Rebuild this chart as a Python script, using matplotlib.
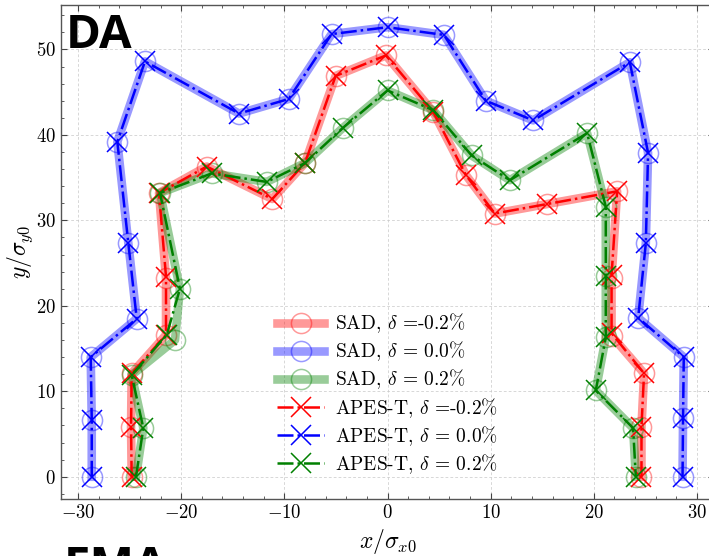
import matplotlib
matplotlib.use("Agg")
import matplotlib.pyplot as plt
from matplotlib.ticker import MultipleLocator

plt.rcParams.update({
    "font.family": "serif",
    "font.serif": ["cmr10"],
    "mathtext.fontset": "cm",
    "axes.formatter.use_mathtext": True,
    "axes.unicode_minus": True,
})

# Beam footprint boundaries (normalised coordinates)
deltas = ["-0.2", "0.0", "0.2"]
colors = ["red", "blue", "green"]

apes_x_m02 = [-24.8, -24.86, -24.8, -21.47, -21.47, -22.15, -17.53, -11.17, -8.0, -5.03, -0.15,
              4.43, 7.6, 10.4, 15.42, 22.26, 21.72, 21.72, 24.87, 24.62, 24.62]
apes_y_m02 = [0.0, 5.86, 12.1, 16.6, 23.4, 33.2, 36.3, 32.5, 36.7, 46.9, 49.3,
              42.7, 35.3, 30.8, 31.9, 33.4, 23.6, 16.8, 12.1, 5.86, 0.0]

apes_x_0 = [-28.67, -28.67, -28.77, -24.31, -25.13, -26.19, -23.51, -14.4, -9.58, -5.42, 0.0,
            5.47, 9.53, 14.12, 23.49, 25.26, 25.04, 24.3, 28.72, 28.65, 28.6]
apes_y_0 = [0.0, 6.7, 14.0, 18.5, 27.4, 39.2, 48.6, 42.5, 44.2, 51.8, 52.6,
            51.7, 44.0, 41.7, 48.5, 37.9, 27.3, 18.6, 14.0, 6.9, 0.0]

apes_x_p02 = [-24.38, -23.67, -24.8, -21.4, -20.12, -22.05, -17.04, -11.71, -8.0, -4.35, 0.0,
              4.43, 8.15, 11.86, 19.35, 21.16, 21.16, 21.16, 20.19, 23.81, 24.07]
apes_y_p02 = [0.0, 5.7, 11.9, 16.6, 22.0, 33.2, 35.5, 34.5, 36.7, 40.8, 45.2,
              42.9, 37.6, 34.7, 40.2, 31.6, 23.5, 16.3, 10.1, 5.7, 0.0]

sad_x_m02 = [-24.8, -24.86, -24.8, -21.47, -21.47, -22.15, -17.53, -11.17, -8.0, -5.03, -0.15,
             4.43, 7.6, 10.4, 15.42, 22.26, 21.72, 21.72, 24.87, 24.62, 24.62]
sad_y_m02 = [0.0, 5.86, 12.1, 16.6, 23.2, 33.2, 36.3, 32.5, 36.7, 46.9, 49.3,
             42.7, 35.3, 30.8, 31.9, 33.4, 23.2, 16.5, 12.1, 5.86, 0.0]

sad_x_0 = apes_x_0
sad_y_0 = apes_y_0

sad_x_p02 = [-24.38, -23.67, -24.8, -20.6, -20.12, -22.05, -17.04, -11.71, -8.0, -4.35, 0.0,
             4.43, 8.15, 11.86, 19.35, 21.16, 21.16, 21.16, 20.19, 23.81, 24.07]
sad_y_p02 = [0.0, 5.7, 11.9, 16.0, 22.0, 33.2, 35.5, 34.5, 36.7, 40.8, 45.2,
             42.9, 37.6, 34.7, 40.2, 31.6, 23.5, 16.3, 10.1, 5.7, 0.0]

sad_x = [sad_x_m02, sad_x_0, sad_x_p02]
sad_y = [sad_y_m02, sad_y_0, sad_y_p02]
apes_x = [apes_x_m02, apes_x_0, apes_x_p02]
apes_y = [apes_y_m02, apes_y_0, apes_y_p02]


def delta_label(d):
    return r"$\delta$ =" + (d if d.startswith("-") else " " + d) + "%"


W, H = 709, 556
fig = plt.figure(figsize=(W / 100, H / 100), dpi=100)
x_lim = (-31.65, 31.65)
y_lim = (-2.6, 55.2)
left, right, top, bottom = 61, 714, 5, 499
ax = fig.add_axes([left / W, (H - bottom) / H, (right - left) / W, (bottom - top) / H])

for xs, ys, c, d in zip(sad_x, sad_y, colors, deltas):
    ax.plot(xs, ys, color=c, alpha=0.4, lw=6.2, marker="o", ms=14.5,
            mfc="none", mec=c, mew=1.1, label="SAD, " + delta_label(d), zorder=2)

for xs, ys, c, d in zip(apes_x, apes_y, colors, deltas):
    ax.plot(xs, ys, color=c, lw=1.8, ls="-.", marker="x", ms=14.5,
            mew=1.1, label="APES-T, " + delta_label(d), zorder=3)

ax.set_xlim(*x_lim)
ax.set_ylim(*y_lim)
ax.xaxis.set_major_locator(MultipleLocator(10))
ax.xaxis.set_minor_locator(MultipleLocator(2))
ax.yaxis.set_major_locator(MultipleLocator(10))
ax.yaxis.set_minor_locator(MultipleLocator(2))
ax.tick_params(which="both", direction="in", top=True, right=True, labelsize=13.5,
               color="#444444")
ax.tick_params(which="major", length=4.5, width=0.8)
ax.tick_params(which="minor", length=2.5, width=0.6)
for s in ax.spines.values():
    s.set_color("#555555")
    s.set_linewidth(1.0)
ax.grid(True, which="major", ls=(0, (4, 3)), lw=0.5, color="#c8c8c8")
ax.set_axisbelow(True)

ax.set_xlabel(r"$x/\sigma_{x0}$", fontsize=17, labelpad=4)
ax.set_ylabel(r"$y/\sigma_{y0}$", fontsize=17, labelpad=1)

ax.legend(loc="lower center", frameon=False, fontsize=14, handlelength=2.4,
          handletextpad=0.55, labelspacing=0.22, borderaxespad=0.8, numpoints=1)

fig.text(66 / W, 1 - 48 / H, "DA", fontsize=34, fontweight="bold",
         family="Open Sans", va="baseline", ha="left")
fig.text(64 / W, 1 - 580 / H, "EMA", fontsize=34, fontweight="bold",
         family="Open Sans", va="baseline", ha="left")

fig.savefig("out.png", dpi=100)
